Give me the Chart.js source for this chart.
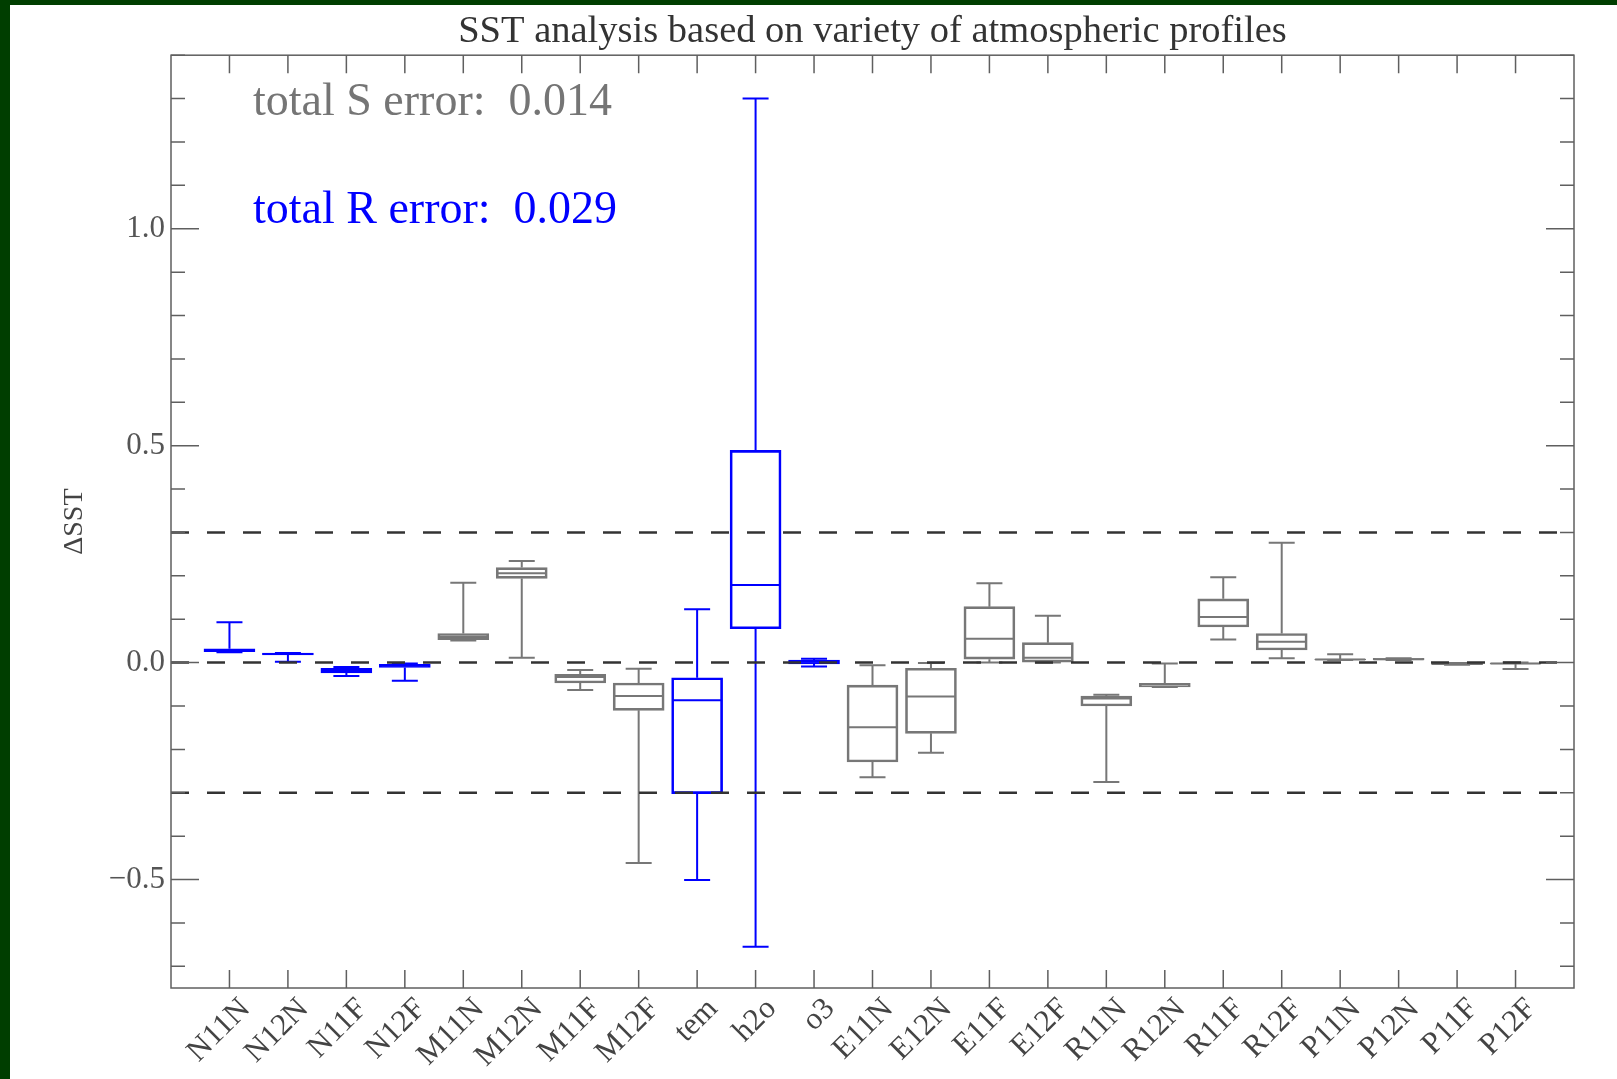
<!DOCTYPE html>
<html>
<head>
<meta charset="utf-8">
<script src="https://cdn.jsdelivr.net/npm/chart.js@4.4.0/dist/chart.umd.min.js"></script>
<style>
  body { margin: 0; background: #003e00; }
  #wrap { position: absolute; left: 10px; top: 5px; width: 1607px; height: 1074px; background: #fff; }
</style>
</head>
<body>
<div id="wrap"><canvas id="myChart"></canvas></div>
<script>
// DATA

var categories = ['N11N', 'N12N', 'N11F', 'N12F', 'M11N', 'M12N', 'M11F', 'M12F', 'tem', 'h2o', 'o3',
  'E11N', 'E12N', 'E11F', 'E12F', 'R11N', 'R12N', 'R11F', 'R12F', 'P11N', 'P12N', 'P11F', 'P12F'];
// R = blue set, S = gray set
var errorType = ['R', 'R', 'R', 'R', 'S', 'S', 'S', 'S', 'R', 'R', 'R',
  'S', 'S', 'S', 'S', 'S', 'S', 'S', 'S', 'S', 'S', 'S', 'S'];

var whiskerLow  = [0.024, 0.002, -0.031, -0.042, 0.051, 0.011, -0.063, -0.462, -0.501, -0.655, -0.009,
  -0.264, -0.208, 0.000, 0.000, -0.275, -0.056, 0.053, 0.010, 0.006, 0.006, -0.005, -0.015];
var quartile1   = [0.025, 0.018, -0.024, -0.011, 0.053, 0.194, -0.047, -0.110, -0.302, 0.078, -0.003,
  -0.229, -0.163, 0.008, 0.001, -0.100, -0.056, 0.082, 0.029, 0.007, 0.006, -0.005, -0.003];
var median      = [0.029, 0.020, -0.019, -0.007, 0.059, 0.206, -0.033, -0.077, -0.087, 0.179, 0.002,
  -0.149, -0.078, 0.055, 0.011, -0.083, -0.050, 0.105, 0.048, 0.007, 0.008, -0.003, -0.002];
var quartile3   = [0.032, 0.022, -0.013, -0.004, 0.067, 0.219, -0.027, -0.047, -0.035, 0.489, 0.006,
  -0.052, -0.013, 0.129, 0.046, -0.077, -0.048, 0.147, 0.067, 0.008, 0.010, -0.001, -0.001];
var whiskerHigh = [0.093, 0.022, -0.010, -0.002, 0.184, 0.234, -0.017, -0.014, 0.123, 1.300, 0.009,
  -0.006, -0.001, 0.183, 0.108, -0.074, -0.002, 0.197, 0.276, 0.019, 0.010, -0.001, 0.000];

var refLevels = [0.3, 0.0, -0.3];
var errorLabels = ['total S error:', 'total R error:'];
var errorValues = [0.014, 0.029];

var yTicksMajor = [-0.5, 0.0, 0.5, 1.0];

// STYLE

var colors = { R: '#0000ff', S: '#777777' };
var axisColor = '#5f5f5f';
var serif = "'Liberation Serif', 'Times New Roman', serif";

// category axis with an empty slot at both ends so the boxes sit one step in from the frame
var labels = [''].concat(categories, ['']);
var boxData = [null].concat(categories.map(function(c, i) { return [quartile1[i], quartile3[i]]; }), [null]);
var boxColors = [null].concat(errorType.map(function(t) { return colors[t]; }), [null]);

function isMajor(v) {
  return yTicksMajor.some(function(m) { return Math.abs(m - v) < 1e-6; });
}

// WHISKERS, MEDIANS, FRAME

var boxPlotPlugin = {
  id: 'boxPlot',
  beforeDatasetsDraw: function(chart) {
    var ctx = chart.ctx, xs = chart.scales.x, ys = chart.scales.y;
    ctx.save();
    ctx.lineWidth = 2;
    categories.forEach(function(c, i) {
      var x = xs.getPixelForValue(i + 1);
      ctx.strokeStyle = colors[errorType[i]];
      ctx.beginPath();
      ctx.moveTo(x, ys.getPixelForValue(quartile3[i]));
      ctx.lineTo(x, ys.getPixelForValue(whiskerHigh[i]));
      ctx.moveTo(x, ys.getPixelForValue(quartile1[i]));
      ctx.lineTo(x, ys.getPixelForValue(whiskerLow[i]));
      ctx.moveTo(x - 13, ys.getPixelForValue(whiskerHigh[i]));
      ctx.lineTo(x + 13, ys.getPixelForValue(whiskerHigh[i]));
      ctx.moveTo(x - 13, ys.getPixelForValue(whiskerLow[i]));
      ctx.lineTo(x + 13, ys.getPixelForValue(whiskerLow[i]));
      ctx.moveTo(x - 25, ys.getPixelForValue(median[i]));
      ctx.lineTo(x + 25, ys.getPixelForValue(median[i]));
      ctx.stroke();
    });
    ctx.restore();
  },
  afterDraw: function(chart) {
    var ctx = chart.ctx, xs = chart.scales.x, ys = chart.scales.y, a = chart.chartArea;
    ctx.save();
    ctx.strokeStyle = axisColor;
    ctx.lineWidth = 1.5;
    ctx.strokeRect(a.left, a.top, a.right - a.left, a.bottom - a.top);
    ctx.beginPath();
    categories.forEach(function(c, i) {
      var x = xs.getPixelForValue(i + 1);
      ctx.moveTo(x, a.bottom); ctx.lineTo(x, a.bottom - 18);
      ctx.moveTo(x, a.top); ctx.lineTo(x, a.top + 18);
    });
    ys.ticks.forEach(function(t) {
      var y = ys.getPixelForValue(t.value);
      var len = isMajor(t.value) ? 28 : 14;
      ctx.moveTo(a.left, y); ctx.lineTo(a.left + len, y);
      ctx.moveTo(a.right, y); ctx.lineTo(a.right - len, y);
    });
    ctx.stroke();

    // error totals
    ctx.font = '46px ' + serif;
    ctx.textBaseline = 'alphabetic';
    ctx.fillStyle = '#757575';
    ctx.fillText(errorLabels[0] + '  ' + errorValues[0].toFixed(3), a.left + 82, a.top + 60);
    ctx.fillStyle = colors.R;
    ctx.fillText(errorLabels[1] + '  ' + errorValues[1].toFixed(3), a.left + 82, a.top + 168);
    ctx.restore();
  }
};

// CHART

var ctx = document.getElementById('myChart').getContext('2d');

var datasets = refLevels.map(function(v) {
  return {
    type: 'line',
    data: labels.map(function() { return v; }),
    borderColor: '#333333',
    borderWidth: 2.5,
    borderDash: [18, 18],
    pointRadius: 0,
    order: 0
  };
});
datasets.push({
  type: 'bar',
  data: boxData,
  backgroundColor: 'rgba(255,255,255,0)',
  borderColor: boxColors,
  borderWidth: 2,
  borderSkipped: false,
  barThickness: 51,
  order: 1
});

var chart = new Chart(ctx, {
  type: 'bar',
  data: { labels: labels, datasets: datasets },
  options: {
    responsive: true,
    maintainAspectRatio: false,
    animation: false,
    layout: { padding: { top: 0, right: 43, bottom: 0, left: 0 } },
    plugins: {
      legend: { display: false },
      tooltip: { enabled: false },
      title: {
        display: true,
        fullSize: false,
        text: 'SST analysis based on variety of atmospheric profiles',
        color: '#333333',
        font: { family: serif, size: 38.5, weight: 'normal' },
        padding: { top: 4, bottom: 0 }
      }
    },
    scales: {
      x: {
        offset: false,
        grid: { display: false, drawTicks: false },
        border: { display: false },
        ticks: {
          autoSkip: false,
          minRotation: 45,
          maxRotation: 45,
          labelOffset: 16,
          padding: 3,
          color: '#444444',
          font: { family: serif, size: 31 }
        },
        afterFit: function(scale) { scale.height = 91; }
      },
      y: {
        min: -0.75,
        max: 1.4,
        grid: { display: false, drawTicks: false },
        border: { display: false },
        ticks: {
          stepSize: 0.1,
          includeBounds: false,
          autoSkip: false,
          padding: 6,
          color: '#555555',
          font: { family: serif, size: 31 },
          callback: function(v) {
            if (!isMajor(v)) return '';
            return v < 0 ? '\u2212' + Math.abs(v).toFixed(1) : v.toFixed(1);
          }
        },
        title: {
          display: true,
          text: '\u0394SST',
          color: '#444444',
          font: { family: serif, size: 28 },
          padding: { top: 48, bottom: 0 }
        },
        afterFit: function(scale) { scale.width = 161; }
      }
    }
  },
  plugins: [boxPlotPlugin]
});
</script>
</body>
</html>
